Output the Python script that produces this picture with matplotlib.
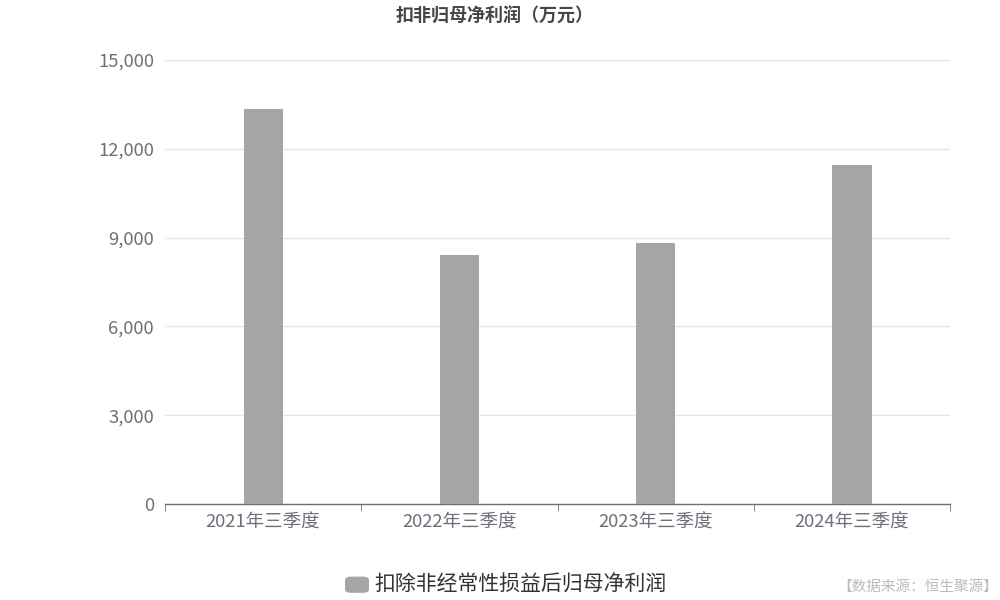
import matplotlib
matplotlib.use("Agg")
import matplotlib.pyplot as plt
from matplotlib.patches import FancyBboxPatch
from matplotlib.ticker import FuncFormatter, MultipleLocator
import numpy as np

plt.rcParams['font.family'] = ['Noto Sans CJK SC', 'DejaVu Sans']

categories = ["2021年三季度", "2022年三季度", "2023年三季度", "2024年三季度"]
values = [13340, 8410, 8830, 11440]
series_name = "扣除非经常性损益后归母净利润"
title = "扣非归母净利润（万元）"
source = "【数据来源：恒生聚源】"

fig = plt.figure(figsize=(10, 6), dpi=100)
ax = fig.add_axes([0.165, 0.16, 0.785, 0.74])

x = np.arange(len(categories))
ax.bar(x, values, width=0.2, color="#a5a5a5", zorder=3)

ax.set_xlim(-0.5, len(categories) - 0.5)
ax.set_ylim(0, 15000)
ax.yaxis.set_major_locator(MultipleLocator(3000))
ax.yaxis.set_major_formatter(FuncFormatter(lambda v, p: f"{int(v):,}"))
ax.grid(axis="y", color="#e0e6f1", linewidth=1, zorder=0)
ax.set_axisbelow(True)

for s in ["top", "right", "left"]:
    ax.spines[s].set_visible(False)
ax.spines["bottom"].set_color("#6e7079")
ax.spines["bottom"].set_linewidth(1)

ax.set_xticks(x)
ax.set_xticklabels(categories)
ax.set_xticks(np.arange(-0.5, len(categories), 1), minor=True)
ax.tick_params(axis="x", which="major", length=0, pad=7, labelsize=13.3, labelcolor="#6e7079")
ax.tick_params(axis="x", which="minor", length=5, color="#6e7079")
ax.tick_params(axis="y", length=0, pad=8, labelsize=13.3, labelcolor="#6e7079")

fig.text(0.495, 0.973, title, ha="center", va="center", fontsize=13, fontweight="bold", color="#464646")

# legend
patch = FancyBboxPatch((0.345, 0.012), 0.024, 0.027, boxstyle="round,pad=0,rounding_size=0.006",
                       transform=fig.transFigure, facecolor="#a5a5a5", edgecolor="none")
fig.patches.append(patch)
fig.text(0.374, 0.025, series_name, ha="left", va="center", fontsize=15, color="#333333")

fig.text(0.998, 0.021, source, ha="right", va="center", fontsize=10.5, color="#bbbbbb")

fig.savefig("out.png", dpi=100)
